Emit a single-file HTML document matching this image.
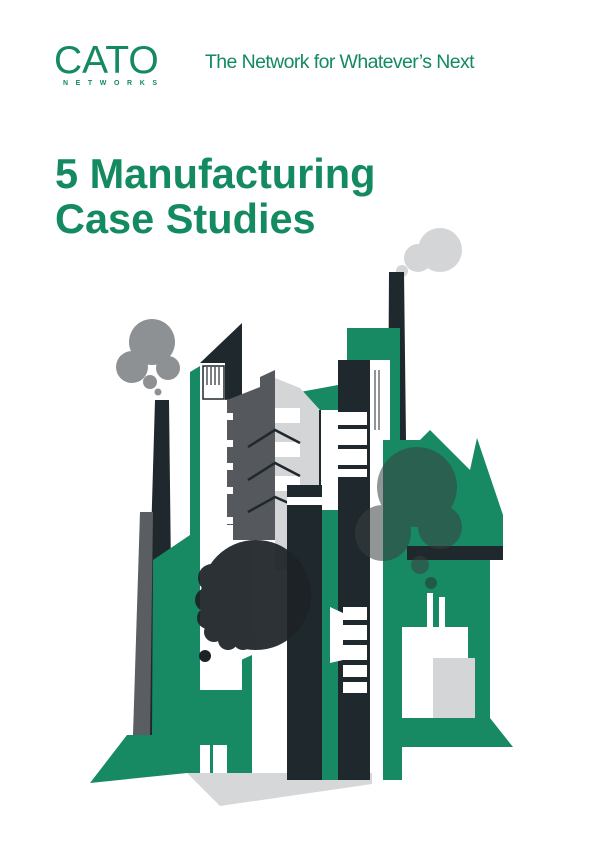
<!DOCTYPE html>
<html><head><meta charset="utf-8"><style>
html,body{margin:0;padding:0;background:#fff;}
body{width:600px;height:848px;position:relative;overflow:hidden;font-family:"Liberation Sans",sans-serif;}
.t{position:absolute;color:#138a5f;white-space:nowrap;}
</style></head><body>
<div class="t" style="left:54px;top:39px;font-size:39px;line-height:44px;">CATO</div>
<div class="t" style="left:63px;top:80px;font-size:7px;font-weight:bold;letter-spacing:7.6px;">NETWORKS</div>
<div class="t" style="left:205px;top:50px;font-size:19.5px;letter-spacing:-0.6px;line-height:24px;">The Network for Whatever’s Next</div>
<div class="t" style="left:55px;top:151px;font-size:41.5px;font-weight:bold;line-height:45px;letter-spacing:0px;">5 Manufacturing<br>Case Studies</div>
<svg style="position:absolute;left:0;top:0" width="600" height="848" viewBox="0 0 600 848">
<polygon points="187,773 372,773 372,784 220,806" fill="#d6d7d9"/>
<g fill="#d4d5d7"><circle cx="440" cy="250" r="22"/><circle cx="418" cy="258" r="14"/><circle cx="402" cy="271" r="6"/></g>
<polygon points="389,272 404,272 406,440 388,440" fill="#1f282d"/>
<g fill="#8e9194"><circle cx="152" cy="342" r="23"/><circle cx="132" cy="367" r="16"/><circle cx="168" cy="368" r="12"/><circle cx="150" cy="382" r="7"/><circle cx="158" cy="392" r="3.5"/></g>
<polygon points="155,400 169,400 173,745 145,745" fill="#1f282d"/>
<polygon points="140,512 153,512 150,735 133,735" fill="#5a5d61"/>
<polygon points="347,328 400,328 400,440 420,440 430,430 470,470 477,438 503,515 503,547 490,560 490,718 513,747 402,747 402,780 383,780 383,440 370,440 370,360 347,360" fill="#178a63"/>
<polygon points="300,392 338,385 338,560 300,560" fill="#178a63"/>
<polygon points="90,783 127,735 152,735 153,560 190,535 190,372 200,366 200,690 230,665 252,655 252,773 187,773" fill="#178a63"/>
<polygon points="200,363 242,325 242,690 200,690" fill="#ffffff"/>
<polygon points="200,363 242,323 242,398 225,400 225,363" fill="#1f282d"/>
<rect x="203" y="366" width="21" height="33" fill="#fff" stroke="#1f282d" stroke-width="1.5"/>
<g stroke="#1f282d" stroke-width="1.2"><line x1="207" y1="367" x2="207" y2="385"/><line x1="211" y1="367" x2="211" y2="385"/><line x1="215" y1="367" x2="215" y2="385"/><line x1="219" y1="367" x2="219" y2="385"/></g>
<polygon points="275,378 300,388 320,410 320,570 275,570" fill="#d4d5d7"/>
<g fill="#fff"><rect x="275" y="408" width="25" height="15"/><rect x="275" y="442" width="25" height="15"/><rect x="275" y="476" width="25" height="15"/></g>
<polygon points="227,400 260,387 260,377 275,370 275,540 233,540 233,525 227,525" fill="#55585c"/>
<g fill="#fff"><rect x="223" y="413" width="10" height="7"/><rect x="223" y="440" width="10" height="7"/><rect x="223" y="463" width="10" height="7"/><rect x="223" y="487" width="10" height="7"/><rect x="223" y="517" width="10" height="7"/></g>
<g stroke="#1f282d" stroke-width="2.5" fill="none"><polyline points="248,447 275,430 300,443"/><polyline points="248,480 275,463 300,476"/><polyline points="248,512 275,497 300,508"/></g>
<rect x="320" y="410" width="18" height="100" fill="#fff"/>
<line x1="320" y1="410" x2="320" y2="520" stroke="#1f282d" stroke-width="2"/>
<rect x="287" y="485" width="35" height="295" fill="#1f282d"/>
<rect x="287" y="497" width="35" height="8" fill="#fff"/>
<rect x="322" y="520" width="21" height="260" fill="#178a63"/>
<rect x="338" y="360" width="32" height="420" fill="#1f282d"/>
<rect x="338" y="412" width="29" height="65" fill="#fff"/>
<g fill="#1f282d"><rect x="338" y="425" width="29" height="4"/><rect x="338" y="445" width="29" height="4"/><rect x="338" y="465" width="29" height="4"/></g>
<rect x="343" y="607" width="24" height="86" fill="#fff"/>
<g fill="#1f282d"><rect x="343" y="620" width="24" height="5"/><rect x="343" y="640" width="24" height="5"/><rect x="343" y="660" width="24" height="5"/><rect x="343" y="677" width="24" height="5"/></g>
<polygon points="330,607 343,613 343,660 330,663" fill="#fff"/>
<rect x="370" y="360" width="13" height="300" fill="#fff"/>
<rect x="383" y="360" width="7" height="80" fill="#fff"/>
<g stroke="#1f282d" stroke-width="1"><line x1="375" y1="370" x2="375" y2="430"/><line x1="379" y1="370" x2="379" y2="430"/></g>
<rect x="402" y="627" width="66" height="91" fill="#fff"/>
<rect x="433" y="658" width="42" height="60" fill="#d4d5d7"/>
<rect x="427" y="593" width="6" height="34" fill="#fff"/><rect x="439" y="597" width="6" height="30" fill="#fff"/>
<rect x="200" y="745" width="10" height="28" fill="#fff"/><rect x="213" y="745" width="14" height="28" fill="#fff"/>
<rect x="407" y="546" width="96" height="14" fill="#1f282d"/>
<g fill="#3a3f42" opacity="0.55"><circle cx="417" cy="487" r="40"/><circle cx="383" cy="533" r="28"/><circle cx="440" cy="527" r="22"/><circle cx="420" cy="565" r="9"/></g>
<circle cx="431" cy="583" r="6" fill="#1f5a45"/>
<g fill="#1c2226" opacity="0.93"><circle cx="256" cy="595" r="55"/><circle cx="212" cy="578" r="14"/><circle cx="207" cy="600" r="12"/><circle cx="208" cy="618" r="11"/><circle cx="214" cy="632" r="10"/><circle cx="228" cy="640" r="10"/><circle cx="243" cy="640" r="10"/></g>
<circle cx="205" cy="656" r="6" fill="#1c2226"/>
</svg>
</body></html>
